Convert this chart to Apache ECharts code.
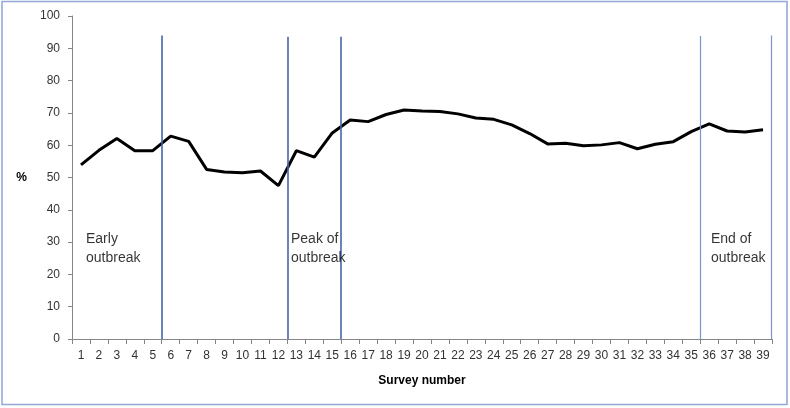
<!DOCTYPE html>
<html>
<head>
<meta charset="utf-8">
<script src="https://cdn.jsdelivr.net/npm/echarts@6/dist/echarts.min.js"></script>
<style>
  html, body { margin: 0; padding: 0; background: #fff; }
  #chart { width: 790px; height: 408px; }
</style>
</head>
<body>
<div id="chart"></div>
<script>
// survey numbers 1..39
const surveys = ['1','2','3','4','5','6','7','8','9','10','11','12','13','14','15','16','17','18','19','20',
  '21','22','23','24','25','26','27','28','29','30','31','32','33','34','35','36','37','38','39'];
// % per survey
const percent = [53.9, 58.4, 62.1, 58.3, 58.3, 62.8, 61.2, 52.5, 51.7, 51.5,
  52.0, 47.5, 58.3, 56.3, 63.8, 67.8, 67.3, 69.5, 70.9, 70.6,
  70.4, 69.7, 68.4, 68.0, 66.3, 63.6, 60.4, 60.6, 59.8, 60.1,
  60.8, 58.9, 60.3, 61.1, 64.2, 66.6, 64.4, 64.1, 64.8];
// phase boundaries (in survey units) and the height each marker line reaches
const phaseAt = [5.5, 12.5, 15.5, 35.5, 39.45];
const phaseTop = [94, 93.6, 93.6, 93.8, 94];
// annotation labels and where they sit (survey units, %)
const noteText = ['Early\noutbreak', 'Peak of\noutbreak', 'End of\noutbreak'];
const noteX = [1.28, 12.7, 36.1];
const noteY = [33.8, 33.8, 33.8];

const yTicks = { min: 0, max: 100, interval: 10 };

const phaseStyle = [
  { color: '#4565ae', width: 1.6, opacity: 1 },
  { color: '#4565ae', width: 1.6, opacity: 1 },
  { color: '#4565ae', width: 1.6, opacity: 1 },
  { color: '#7b93d0', width: 1.2, opacity: 1 },
  { color: '#7b93d0', width: 1.2, opacity: 1 }
];

const font = 'Liberation Sans';

let myChart = echarts.init(document.getElementById('chart'));
let option = {
  animation: false,
  backgroundColor: '#fff',
  graphic: [{
    type: 'rect',
    shape: { x: 2, y: 1.5, width: 785, height: 403 },
    style: { fill: 'none', stroke: '#95a9d9', lineWidth: 1.6 },
    z: 100
  }],
  grid: { left: 72, right: 18, top: 16, bottom: 69 },
  xAxis: [
    {
      type: 'category',
      data: surveys,
      boundaryGap: true,
      name: 'Survey number',
      nameLocation: 'middle',
      nameGap: 36,
      nameTextStyle: { fontFamily: font, fontWeight: 'bold', fontSize: 12, color: '#000' },
      axisLine: { lineStyle: { color: '#868686', width: 1 } },
      axisTick: { show: true, length: 5, lineStyle: { color: '#868686' } },
      axisLabel: { interval: 0, margin: 11, fontFamily: font, fontSize: 12, color: '#333' },
      splitLine: { show: false }
    },
    {
      type: 'value',
      min: 0.5,
      max: 39.5,
      show: false
    }
  ],
  yAxis: {
    type: 'value',
    min: yTicks.min,
    max: yTicks.max,
    interval: yTicks.interval,
    name: '%',
    nameLocation: 'middle',
    nameRotate: 0,
    nameGap: 45,
    nameTextStyle: { fontFamily: font, fontWeight: 'bold', fontSize: 12, color: '#000' },
    axisLine: { show: true, lineStyle: { color: '#868686', width: 1 } },
    axisTick: { show: true, length: 4, lineStyle: { color: '#868686' } },
    axisLabel: { margin: 12, fontFamily: font, fontSize: 12, color: '#333' },
    splitLine: { show: false }
  },
  series: [
    {
      type: 'line',
      data: percent,
      symbol: 'none',
      lineStyle: { color: '#000', width: 3 },
      z: 2
    },
    {
      type: 'lines',
      coordinateSystem: 'cartesian2d',
      xAxisIndex: 1,
      clip: false,
      z: 3,
      data: phaseAt.map((x, i) => ({
        coords: [[x, 0], [x, phaseTop[i]]],
        lineStyle: phaseStyle[i]
      }))
    },
    {
      type: 'scatter',
      xAxisIndex: 1,
      symbolSize: 0,
      z: 4,
      data: noteX.map((x, i) => [x, noteY[i], noteText[i]]),
      label: {
        show: true,
        position: [0, 0],
        align: 'left',
        verticalAlign: 'top',
        formatter: p => p.data[2],
        fontFamily: font,
        fontSize: 14,
        lineHeight: 19,
        color: '#000'
      }
    }
  ]
};
myChart.setOption(option);
window.addEventListener('resize', function () {
  myChart.resize()
})
</script>
</body>
</html>
